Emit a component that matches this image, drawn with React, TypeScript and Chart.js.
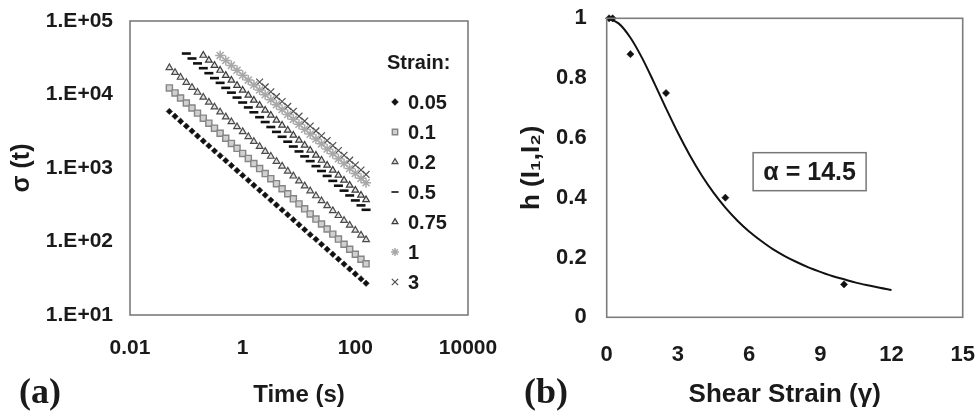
import React, { useEffect, useRef } from 'react';
import { Chart, registerables } from 'chart.js';
import { drawPoint } from 'chart.js/helpers';

Chart.register(...registerables);

// ---------- Panel (a) data ----------
const TIME = [0.05, 0.063, 0.079, 0.1, 0.126, 0.158, 0.2, 0.251, 0.316, 0.398, 0.501, 0.631, 0.794, 1, 1.26, 1.58, 2, 2.51, 3.16, 3.98, 5.01, 6.31, 7.94, 10, 12.6, 15.8, 20, 25.1, 31.6, 39.8, 50.1, 63.1, 79.4, 100, 126, 155];

const STRAIN_LABELS = ['0.05', '0.1', '0.2', '0.5', '0.75', '1', '3'];
const LEGEND_TITLE = 'Strain:';

const SIGMA_005 = [5890, 5050, 4330, 3710, 3180, 2720, 2330, 2000, 1710, 1470, 1260, 1080, 925, 793, 679, 582, 499, 428, 366, 314, 269, 231, 198, 169, 145, 124, 107, 91.4, 78.3, 67.1, 57.5, 49.3, 42.3, 36.2, 31.0, 27.0];
const SIGMA_01 = [12300, 10500, 8970, 7660, 6550, 5580, 4760, 4070, 3480, 2970, 2540, 2160, 1850, 1580, 1350, 1150, 982, 839, 716, 612, 522, 446, 381, 325, 278, 237, 202, 173, 148, 126, 108, 91.8, 78.5, 67.0, 57.3, 49.7];
const SIGMA_02 = [23200, 19900, 17100, 14600, 12500, 10700, 9180, 7870, 6750, 5780, 4950, 4250, 3640, 3120, 2670, 2290, 1960, 1680, 1440, 1230, 1060, 906, 776, 665, 570, 488, 418, 358, 307, 263, 225, 193, 166, 142, 122, 106];
const SIGMA_05 = [null, null, null, 36100, 30900, 26500, 22800, 19500, 16700, 14400, 12300, 10600, 9080, 7780, 6670, 5730, 4910, 4220, 3610, 3100, 2660, 2280, 1960, 1680, 1440, 1240, 1060, 910, 780, 668, 574, 492, 423, 362, 310, 270];
const SIGMA_075 = [null, null, null, null, null, null, 34100, 29200, 24900, 21300, 18200, 15600, 13300, 11400, 9750, 8340, 7130, 6100, 5210, 4460, 3810, 3260, 2790, 2380, 2040, 1740, 1490, 1270, 1090, 931, 796, 681, 582, 498, 426, 370];
const SIGMA_1 = [null, null, null, null, null, null, null, null, null, 33900, 29000, 24900, 21400, 18300, 15700, 13500, 11500, 9910, 8490, 7280, 6240, 5350, 4590, 3940, 3370, 2890, 2480, 2130, 1820, 1560, 1340, 1150, 986, 845, 724, 631];
const SIGMA_3 = [null, null, null, null, null, null, null, null, null, null, null, null, null, null, null, null, 14800, 12700, 10900, 9350, 8020, 6890, 5900, 5070, 4350, 3730, 3200, 2750, 2360, 2020, 1730, 1490, 1280, 1100, 940, 818];

const SIGMA_SERIES = [SIGMA_005, SIGMA_01, SIGMA_02, SIGMA_05, SIGMA_075, SIGMA_1, SIGMA_3];

const Y_TICKS_A = [10, 100, 1000, 10000, 100000];
const Y_TICK_LABELS_A = ['1.E+01', '1.E+02', '1.E+03', '1.E+04', '1.E+05'];
const X_TICKS_A = [0.01, 1, 100, 10000];
const X_TICK_LABELS_A = ['0.01', '1', '100', '10000'];

// ---------- Panel (b) data ----------
const GAMMA_DATA = [0.1, 0.25, 1, 2.5, 5, 10];
const H_DATA = [1, 1, 0.88, 0.75, 0.4, 0.11];
const GAMMA_FIT = [0, 0.5, 1, 1.5, 2, 2.5, 3, 3.5, 4, 4.5, 5, 5.5, 6, 6.5, 7, 7.5, 8, 8.5, 9, 9.5, 10, 10.5, 11, 11.5, 12];
const H_FIT = [1, 0.983, 0.935, 0.866, 0.784, 0.699, 0.617, 0.542, 0.475, 0.417, 0.367, 0.324, 0.287, 0.256, 0.228, 0.205, 0.185, 0.167, 0.152, 0.138, 0.127, 0.116, 0.107, 0.0988, 0.0915];
const X_TICK_LABELS_B = ['0', '3', '6', '9', '12', '15'];
const Y_TICK_LABELS_B = ['0', '0.2', '0.4', '0.6', '0.8', '1'];
const ALPHA_LABEL = 'α = 14.5';
const ALPHA_AT_X = 8.55;
const ALPHA_AT_Y = 0.487;

// ---------- styling ----------
const FONT = "'Liberation Sans', Arial, Helvetica, sans-serif";
const TXT = '#1a1a1a';
const FRAME = '#7c7c7c';

const SERIES_STYLES = [
  { pointStyle: 'rectRot', radius: 3.2, legendRadius: 3.4, bg: '#111111', border: '#111111', bw: 0.5 },
  { pointStyle: 'rect', radius: 4.3, legendRadius: 3.8, bg: '#d0d0d0', border: '#858585', bw: 1.4 },
  { pointStyle: 'triangle', radius: 3.8, legendRadius: 3.4, bg: 'rgba(200,200,200,0.5)', border: '#4a4a4a', bw: 1.2 },
  { pointStyle: 'line', radius: 4.5, legendRadius: 3.6, bg: '#111111', border: '#111111', bw: 2.6 },
  { pointStyle: 'triangle', radius: 3.8, legendRadius: 3.4, bg: 'rgba(200,200,200,0.5)', border: '#3a3a3a', bw: 1.2 },
  { pointStyle: 'star', radius: 5, legendRadius: 4, bg: '#b0b0b0', border: '#a8a8a8', bw: 1.5 },
  { pointStyle: 'crossRot', radius: 4.8, legendRadius: 4.5, bg: '#505050', border: '#505050', bw: 1.2 },
];

function labelFor(values: number[], labels: string[], v: number) {
  const i = values.findIndex((t) => Math.abs(t - v) / Math.max(Math.abs(t), 1e-9) < 1e-6 || Math.abs(t - v) < 1e-9);
  return i >= 0 ? labels[i] : '';
}

const framePlugin = {
  id: 'frame',
  afterDatasetsDraw(chart: any) {
    const { ctx, chartArea } = chart;
    const { left, top, right, bottom } = chartArea;
    ctx.save();
    ctx.strokeStyle = FRAME;
    ctx.lineWidth = 1.6;
    ctx.strokeRect(left, top, right - left, bottom - top);
    ctx.restore();
  },
};

const strainLegendPlugin = {
  id: 'strainLegend',
  afterDatasetsDraw(chart: any) {
    const { ctx, chartArea } = chart;
    const { top, right } = chartArea;
    ctx.save();
    ctx.fillStyle = TXT;
    ctx.font = `bold 20px ${FONT}`;
    ctx.textBaseline = 'middle';
    ctx.textAlign = 'left';
    ctx.fillText(LEGEND_TITLE, right - 81, top + 42);
    chart.data.datasets.forEach((ds: any, i: number) => {
      const y = top + 81 + 30 * i;
      ctx.save();
      ctx.fillStyle = ds.backgroundColor;
      ctx.strokeStyle = ds.borderColor;
      ctx.lineWidth = Math.min(ds.borderWidth, 1.6);
      drawPoint(ctx, { pointStyle: ds.pointStyle, radius: SERIES_STYLES[i].legendRadius, borderWidth: ds.borderWidth, rotation: 0 } as any, right - 73, y);
      ctx.restore();
      ctx.fillStyle = TXT;
      ctx.fillText(ds.label, right - 60, y + 1);
    });
    ctx.restore();
  },
};

const alphaBoxPlugin = {
  id: 'alphaBox',
  afterDatasetsDraw(chart: any) {
    const { ctx, scales } = chart;
    const cx = scales.x.getPixelForValue(ALPHA_AT_X);
    const cy = scales.y.getPixelForValue(ALPHA_AT_Y);
    const w = 113;
    const h = 38;
    ctx.save();
    ctx.fillStyle = '#ffffff';
    ctx.fillRect(cx - w / 2, cy - h / 2, w, h);
    ctx.strokeStyle = '#777777';
    ctx.lineWidth = 1.5;
    ctx.strokeRect(cx - w / 2, cy - h / 2, w, h);
    ctx.fillStyle = TXT;
    ctx.font = `bold 25px ${FONT}`;
    ctx.textAlign = 'center';
    ctx.textBaseline = 'middle';
    ctx.fillText(ALPHA_LABEL, cx, cy + 1);
    ctx.restore();
  },
};

function configA(): any {
  const datasets = SIGMA_SERIES.map((arr, k) => {
    const st = SERIES_STYLES[k];
    return {
      label: STRAIN_LABELS[k],
      data: TIME.map((t, i) => ({ x: t, y: arr[i] })).filter((p) => p.y != null),
      showLine: false,
      pointStyle: st.pointStyle,
      pointRadius: st.radius,
      backgroundColor: st.bg,
      borderColor: st.border,
      borderWidth: st.bw,
      pointBorderWidth: st.bw,
    };
  });
  return {
    type: 'scatter',
    data: { datasets },
    options: {
      responsive: false,
      animation: false,
      devicePixelRatio: 1,
      layout: { padding: { left: 0, top: 21, right: 42, bottom: 0 } },
      plugins: { legend: { display: false }, tooltip: { enabled: false } },
      scales: {
        x: {
          type: 'logarithmic',
          position: 'bottom',
          min: 0.01,
          max: 10000,
          grid: { display: false, drawTicks: false },
          border: { display: false },
          afterBuildTicks: (s: any) => {
            s.ticks = X_TICKS_A.map((v) => ({ value: v }));
          },
          afterFit: (s: any) => {
            s.height = 98;
            s.paddingLeft = 0;
            s.paddingRight = 0;
          },
          ticks: {
            autoSkip: false,
            maxRotation: 0,
            padding: 21,
            color: TXT,
            font: { size: 21, weight: 'bold' },
            callback: (v: number) => labelFor(X_TICKS_A, X_TICK_LABELS_A, v),
          },
          title: { display: true, text: 'Time (s)', color: TXT, font: { size: 24, weight: 'bold' }, padding: { top: 0, bottom: 3 } },
        },
        y: {
          type: 'logarithmic',
          position: 'left',
          min: 10,
          max: 100000,
          grid: { display: false, drawTicks: false },
          border: { display: false },
          afterBuildTicks: (s: any) => {
            s.ticks = Y_TICKS_A.map((v) => ({ value: v }));
          },
          afterFit: (s: any) => {
            s.width = 130;
            s.paddingTop = 0;
            s.paddingBottom = 0;
          },
          ticks: {
            autoSkip: false,
            padding: 17,
            color: TXT,
            font: { size: 21, weight: 'bold' },
            callback: (v: number) => labelFor(Y_TICKS_A, Y_TICK_LABELS_A, v),
          },
          title: { display: true, text: 'σ (t)', color: TXT, font: { size: 25, weight: 'bold' }, padding: { top: 7, bottom: 0 } },
        },
      },
    },
    plugins: [framePlugin, strainLegendPlugin],
  };
}

function configB(): any {
  return {
    type: 'scatter',
    data: {
      datasets: [
        {
          label: 'data',
          data: GAMMA_DATA.map((g, i) => ({ x: g, y: H_DATA[i] })),
          showLine: false,
          pointStyle: 'rectRot',
          pointRadius: 3.6,
          backgroundColor: '#111111',
          borderColor: '#111111',
          borderWidth: 0.5,
          clip: false,
        },
        {
          label: 'fit',
          data: GAMMA_FIT.map((g, i) => ({ x: g, y: H_FIT[i] })),
          showLine: true,
          pointRadius: 0,
          borderColor: '#111111',
          borderWidth: 2,
          cubicInterpolationMode: 'monotone',
          fill: false,
          clip: false,
        },
      ],
    },
    options: {
      responsive: false,
      animation: false,
      devicePixelRatio: 1,
      layout: { padding: { left: 0, top: 18.3, right: 12.3, bottom: 0 } },
      plugins: { legend: { display: false }, tooltip: { enabled: false } },
      scales: {
        x: {
          type: 'linear',
          position: 'bottom',
          min: 0,
          max: 15,
          grid: { display: false, drawTicks: false },
          border: { display: false },
          afterFit: (s: any) => {
            s.height = 95.7;
            s.paddingLeft = 0;
            s.paddingRight = 0;
          },
          ticks: {
            stepSize: 3,
            autoSkip: false,
            maxRotation: 0,
            padding: 24.5,
            color: TXT,
            font: { size: 22, weight: 'bold' },
            callback: (v: number, i: number) => X_TICK_LABELS_B[i] ?? String(v),
          },
          title: { display: true, text: 'Shear Strain (γ)', color: TXT, font: { size: 26, weight: 'bold' }, padding: { top: 0, bottom: 2.4 } },
        },
        y: {
          type: 'linear',
          position: 'left',
          min: 0,
          max: 1,
          grid: { display: false, drawTicks: false },
          border: { display: false },
          afterFit: (s: any) => {
            s.width = 116.7;
            s.paddingTop = 0;
            s.paddingBottom = 0;
          },
          ticks: {
            stepSize: 0.2,
            autoSkip: false,
            padding: 20,
            color: TXT,
            font: { size: 22, weight: 'bold' },
            callback: (v: number, i: number) => Y_TICK_LABELS_B[i] ?? String(v),
          },
          title: { display: true, text: 'h (I₁,I₂)', color: TXT, font: { size: 26, weight: 'bold' }, padding: { top: 26, bottom: 0 } },
        },
      },
    },
    plugins: [framePlugin, alphaBoxPlugin],
  };
}

const panelLabelStyle = (left: number): React.CSSProperties => ({
  position: 'absolute',
  left,
  top: 373,
  fontFamily: "'Liberation Serif', 'Times New Roman', serif",
  fontWeight: 'bold',
  fontSize: 36,
  lineHeight: '36px',
  color: TXT,
  whiteSpace: 'nowrap',
});

export default function App() {
  const refA = useRef<HTMLCanvasElement>(null);
  const refB = useRef<HTMLCanvasElement>(null);

  useEffect(() => {
    Chart.defaults.font.family = FONT;
    const a = new Chart(refA.current as HTMLCanvasElement, configA());
    const b = new Chart(refB.current as HTMLCanvasElement, configB());
    return () => {
      a.destroy();
      b.destroy();
    };
  }, []);

  return (
    <div style={{ position: 'absolute', left: 0, top: 0, width: 975, height: 413, background: '#ffffff', overflow: 'hidden' }}>
      <canvas ref={refA} width={510} height={413} style={{ position: 'absolute', left: 0, top: 0 }} />
      <canvas ref={refB} width={485} height={413} style={{ position: 'absolute', left: 490, top: 0 }} />
      <div style={panelLabelStyle(19)}>(a)</div>
      <div style={panelLabelStyle(524)}>(b)</div>
    </div>
  );
}
